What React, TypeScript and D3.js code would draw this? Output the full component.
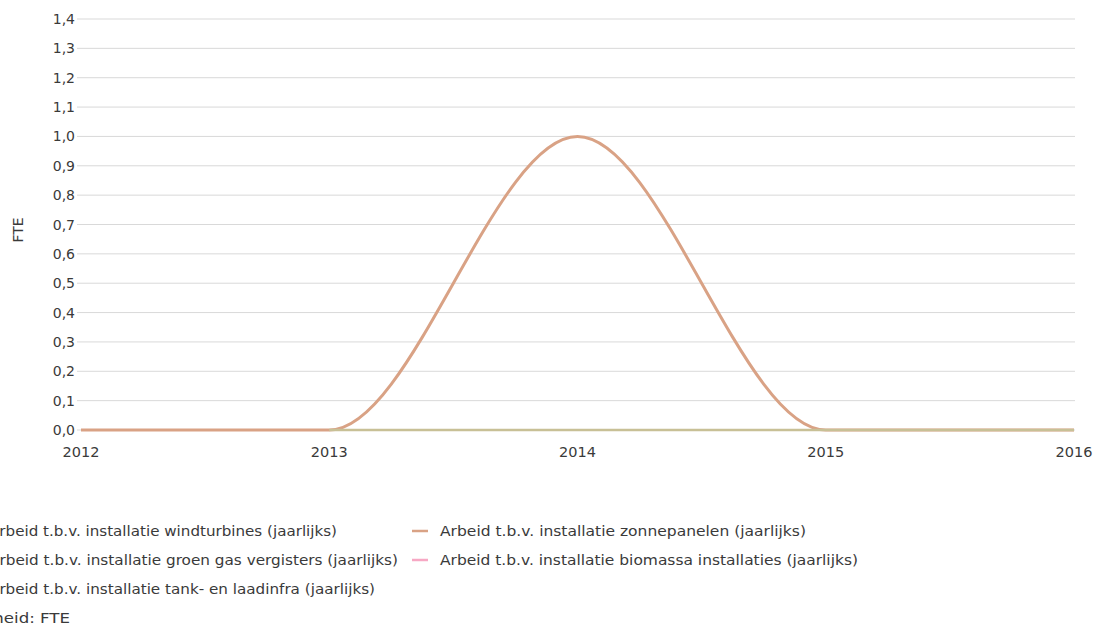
import React from "react";
import * as d3 from "d3";

const years = [2012, 2013, 2014, 2015, 2016];
const zonnepanelen = [0, 0, 1, 0, 0];
const tankLaadYears = [2013, 2014, 2015, 2016];
const tankLaad = [0, 0, 0, 0];
const yTicks = [0, 0.1, 0.2, 0.3, 0.4, 0.5, 0.6, 0.7, 0.8, 0.9, 1.0, 1.1, 1.2, 1.3, 1.4];
const xTicks = [2012, 2013, 2014, 2015, 2016];

const legendLeft = [
  { name: "Arbeid t.b.v. installatie windturbines (jaarlijks)", color: "#7cb5ec", len: 348 },
  { name: "Arbeid t.b.v. installatie groen gas vergisters (jaarlijks)", color: "#90ed7d", len: 409 },
  { name: "Arbeid t.b.v. installatie tank- en laadinfra (jaarlijks)", color: "#c8c096", len: 386 },
];
const legendRight = [
  { name: "Arbeid t.b.v. installatie zonnepanelen (jaarlijks)", color: "#d9a285", len: 366 },
  { name: "Arbeid t.b.v. installatie biomassa installaties (jaarlijks)", color: "#f7a8c4", len: 418 },
];
const unitLabel = "Eenheid: FTE";

export default function App() {
  const W = 1095, H = 625;
  const x = d3.scaleLinear().domain([2012, 2016]).range([81, 1074]);
  const y = d3.scaleLinear().domain([0, 1.4]).range([430, 19]);
  const fmt = (v: number) => d3.format(".1f")(v).replace(".", ",");
  const line = d3.line<[number, number]>().x(d => x(d[0])).y(d => y(d[1])).curve(d3.curveMonotoneX);
  const zonPath = line(years.map((yr, i) => [yr, zonnepanelen[i]] as [number, number])) || "";
  const tankPath = line(tankLaadYears.map((yr, i) => [yr, tankLaad[i]] as [number, number])) || "";
  const font = "'DejaVu Sans', Verdana, sans-serif";
  const txt = "#3a3a3a";
  return (
    <svg width={W} height={H} style={{ position: "absolute", left: 0, top: 0, display: "block", background: "#fff" }} fontFamily={font}>
      {yTicks.map(t => (
        <g key={t}>
          <line x1={77} x2={1075} y1={y(t)} y2={y(t)} stroke="#d9d9d9" strokeWidth={1} />
          <text x={75} y={y(t)} dy="0.36em" textAnchor="end" fontSize={14} fill={txt}>{fmt(t)}</text>
        </g>
      ))}
      {xTicks.map(t => (
        <text key={t} x={x(t)} y={457} textAnchor="middle" fontSize={14.5} fill={txt}>{t}</text>
      ))}
      <text transform={`translate(23,230) rotate(-90)`} textAnchor="middle" fontSize={14} fill={txt}>FTE</text>
      <path d={zonPath} fill="none" stroke="#d9a285" strokeWidth={3} />
      <path d={tankPath} fill="none" stroke="#c8c096" strokeWidth={2.5} />
      {legendLeft.map((d, i) => (
        <g key={d.name}>
          <line x1={-36} x2={-20} y1={531 + i * 29} y2={531 + i * 29} stroke={d.color} strokeWidth={2.5} />
          <text x={-11} y={531 + i * 29} dy="0.36em" fontSize={14} fill={txt} textLength={d.len} lengthAdjust="spacingAndGlyphs">{d.name}</text>
        </g>
      ))}
      {legendRight.map((d, i) => (
        <g key={d.name}>
          <line x1={412} x2={428} y1={531 + i * 29} y2={531 + i * 29} stroke={d.color} strokeWidth={2.5} />
          <text x={440} y={531 + i * 29} dy="0.36em" fontSize={14} fill={txt} textLength={d.len} lengthAdjust="spacingAndGlyphs">{d.name}</text>
        </g>
      ))}
      <text x={-38} y={618} dy="0.36em" fontSize={14} fill={txt} textLength={108} lengthAdjust="spacingAndGlyphs">{unitLabel}</text>
    </svg>
  );
}
